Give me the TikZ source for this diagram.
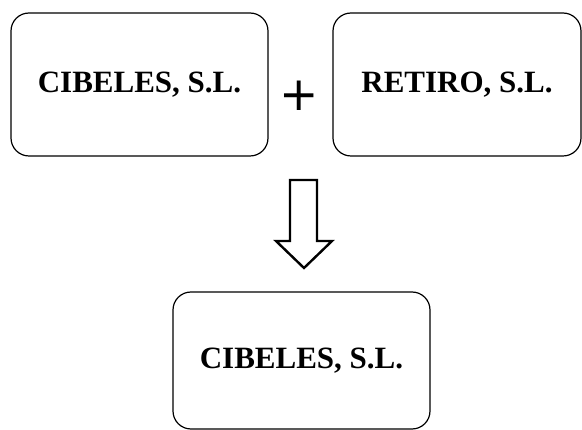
\documentclass[tikz,border=0pt]{standalone}
\usepackage{fontspec}
\setmainfont{Liberation Serif}
\newfontfamily\plusfont{DejaVu Sans}
\begin{document}
\begin{tikzpicture}[x=1pt,y=-1pt,
    firma/.style={draw, line width=1.2pt, rounded corners=18pt,
        minimum width=257pt, minimum height=143pt,
        font=\fontsize{31}{36}\selectfont\bfseries}]
    \useasboundingbox (0,0) rectangle (582,430);
    \node[firma] (cibeles) at (139.5,84.5) {CIBELES, S.L.};
    \node[firma, minimum width=248pt] (retiro) at (457,84.5) {RETIRO, S.L.};
    \node[font=\plusfont\fontsize{47}{47}\selectfont] (mas) at (299.5,96) {+};
    \node[firma, minimum height=137pt] (resultado) at (301.5,360.5) {CIBELES, S.L.};

    \draw[line width=2.4pt, line join=miter]
    (290,180) -- (317,180) -- (317,241) -- (332,241) -- (304,268)
    -- (276,241) -- (290,241) -- cycle;
\end{tikzpicture}
\end{document}
